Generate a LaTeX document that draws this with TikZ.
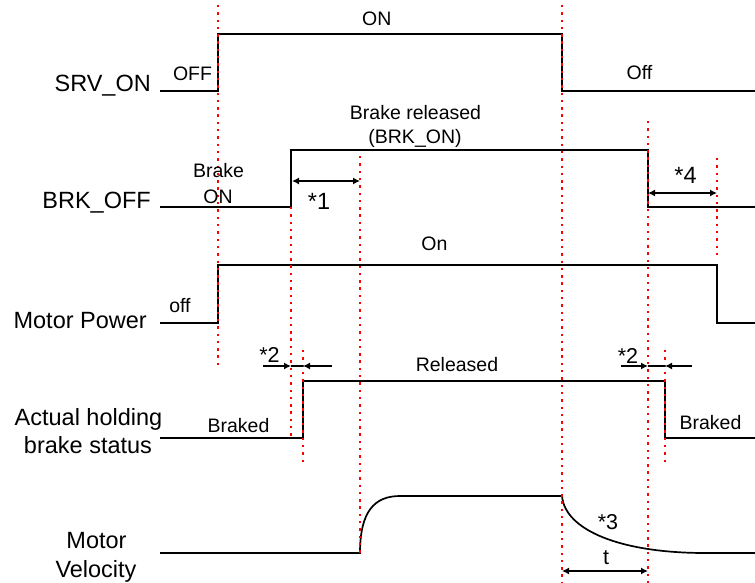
\documentclass[tikz,border=0pt]{standalone}
\usepackage{fontspec}
\setmainfont{Liberation Sans}
\usetikzlibrary{arrows.meta}
\begin{document}
\begin{tikzpicture}[x=1pt,y=-1pt,
 sig/.style={line width=1.7pt,line join=miter},
 redline/.style={red,line width=2.4pt,dash pattern=on 2.4pt off 4.9pt},
 arr/.style={line width=1.3pt,{Latex[length=7pt,width=7pt]}-{Latex[length=7pt,width=7pt]}},
 half/.style={line width=1.3pt,-{Latex[length=7pt,width=7pt]}},
 big/.style={font=\fontsize{23.5}{26}\selectfont,inner sep=0pt,anchor=base},
 mid/.style={font=\fontsize{21.5}{24}\selectfont,inner sep=0pt,anchor=base},
 sm/.style={font=\fontsize{19.5}{22}\selectfont,inner sep=0pt,anchor=base}]
 \useasboundingbox (0,0) rectangle (755,583);
 \draw[sig] (160,91)--(218,91)--(218,34)--(562,34)--(562,91)--(755,91);
 \draw[sig] (160,207)--(291,207)--(291,150)--(648,150)--(648,207)--(755,207);
 \draw[sig] (160,323)--(218,323)--(218,265)--(717,265)--(717,323)--(755,323);
 \draw[sig] (160,438)--(303,438)--(303,381)--(665,381)--(665,438)--(755,438);
 \draw[sig] (160,553)--(360,553) .. controls (360,512) and (374,496) .. (400,496)--(562,496) .. controls (565,530) and (620,553) .. (705,553)--(755,553);
 \foreach \x/\a/\b in {218/5/367,291/207/438,303/350/465,360/156/553,562/5/583,648/121/583,665/350/465,717/158/260}
  \draw[redline] (\x,\a)--(\x,\b);
 \node[big,anchor=base east] (srv) at (151,92) {SRV\_ON};
 \node[big,anchor=base east] (brk) at (151,208) {BRK\_OFF};
 \node[big,anchor=base east] (pwr) at (147,328) {Motor Power};
 \node[big] (hold) at (88.5,425) {Actual holding};
 \node[big] (stat) at (88,453) {brake status};
 \node[big] (mot) at (96.5,548) {Motor};
 \node[big] (vel) at (96,577) {Velocity};
 \node[sm] (srvoff) at (192.5,81) {OFF};
 \node[sm] (srvon) at (376.7,26) {ON};
 \node[sm] (srvoff2) at (639.5,80) {Off};
 \node[sm] (rel1) at (415.5,120) {Brake released};
 \node[sm] (rel2) at (415,143) {(BRK\_ON)};
 \node[sm] (bon1) at (218.5,177) {Brake};
 \node[sm] (bon2) at (218,203) {ON};
 \node[sm] (pwron) at (434.5,250) {On};
 \node[sm] (pwroff) at (180,312) {off};
 \node[sm] (hrel) at (457,371) {Released};
 \node[sm] (hbr1) at (238.5,432) {Braked};
 \node[sm] (hbr2) at (710.5,429.5) {Braked};
 \node[big] (n1) at (319,209) {*1};
 \node[big] (n4) at (685.5,183) {*4};
 \node[mid] (n2a) at (269.5,362) {*2};
 \node[mid] (n2b) at (628,363) {*2};
 \node[mid] (n3) at (608,529) {*3};
 \node[mid] (tt) at (606,564) {t};
 \coordinate (a1) at (292,181); \coordinate (b1) at (360,181);
 \coordinate (a4) at (648,193); \coordinate (b4) at (717,193);
 \coordinate (at) at (562,571); \coordinate (bt) at (648,571);
 \coordinate (p2a) at (263,366); \coordinate (q2a) at (291,366); \coordinate (r2a) at (303,366); \coordinate (s2a) at (332,366);
 \coordinate (p2b) at (621,366); \coordinate (q2b) at (648,366); \coordinate (r2b) at (665,366); \coordinate (s2b) at (692,366);
 \draw[arr] (a1)--(b1); \draw[arr] (a4)--(b4); \draw[arr] (at)--(bt);
 \draw[half] (p2a)--(q2a); \draw[half] (s2a)--(r2a); \draw[line width=1.3pt] (q2a)--(r2a);
 \draw[half] (p2b)--(q2b); \draw[half] (s2b)--(r2b); \draw[line width=1.3pt] (q2b)--(r2b);
\end{tikzpicture}
\end{document}
